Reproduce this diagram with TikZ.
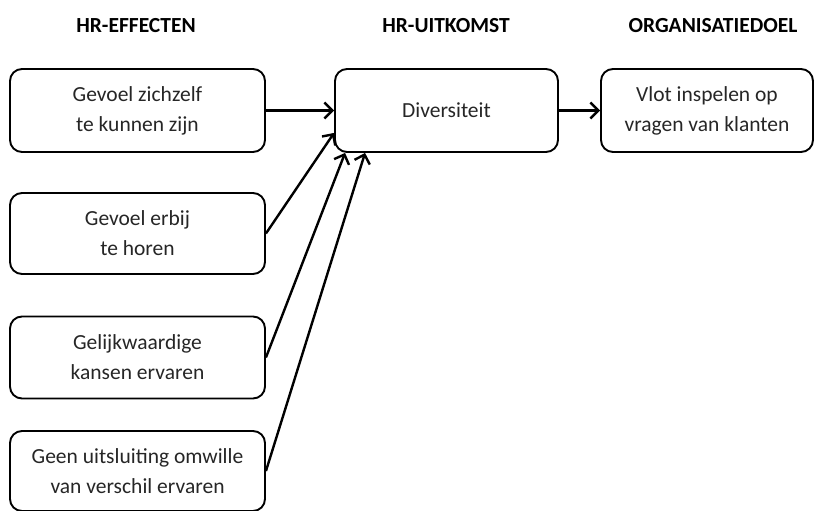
\documentclass[tikz,border=0pt]{standalone}
\usepackage{fontspec}
\setmainfont{Carlito}
\usetikzlibrary{arrows.meta,calc}
\begin{document}
\begin{tikzpicture}[x=1pt,y=-1pt,
  box/.style={draw, line width=1.9pt, rounded corners=12pt, align=center,
    inner sep=0pt, font=\fontsize{21.5}{30}\selectfont, text=black!85},
  head/.style={font=\bfseries\fontsize{21.5}{24}\selectfont, text height=15pt, text depth=0pt, inner sep=0pt},
  arr/.style={line width=2.4pt, -{Straight Barb[length=8pt,width=16pt,line width=2.4pt]}}]
\useasboundingbox (0,0) rectangle (815,511);
\node[head] (h1) at (136,25) {HR-EFFECTEN};
\node[head] (h2) at (446,25) {HR-UITKOMST};
\node[head] (h3) at (713,25) {ORGANISATIEDOEL};
\node[box, minimum width=255pt, minimum height=83pt] (b1) at (137.5,110.5) {Gevoel zichzelf\\te kunnen zijn};
\node[box, minimum width=223pt, minimum height=83pt] (dv) at (446.5,110.5) {Diversiteit};
\node[box, minimum width=212pt, minimum height=83pt] (og) at (707,110.5) {Vlot inspelen op\\vragen van klanten};
\node[box, minimum width=255pt, minimum height=81pt] (b2) at (137.5,233.5) {Gevoel erbij\\te horen};
\node[box, minimum width=255pt, minimum height=82pt] (b3) at (137.5,357.5) {Gelijkwaardige\\kansen ervaren};
\node[box, minimum width=255pt, minimum height=80pt] (b4) at (137.5,471) {Geen uitsluiting omwille\\van verschil ervaren};
\draw[arr] (b1.east) -- (dv.west);
\draw[arr] (dv.east) -- (og.west);
\draw[arr] (b2.east) -- ($(dv.south west)+(0,-20)$);
\draw[arr] (b3.east) -- ($(dv.south west)+(11,0)$);
\draw[arr] (b4.east) -- ($(dv.south west)+(31,0)$);
\end{tikzpicture}
\end{document}
